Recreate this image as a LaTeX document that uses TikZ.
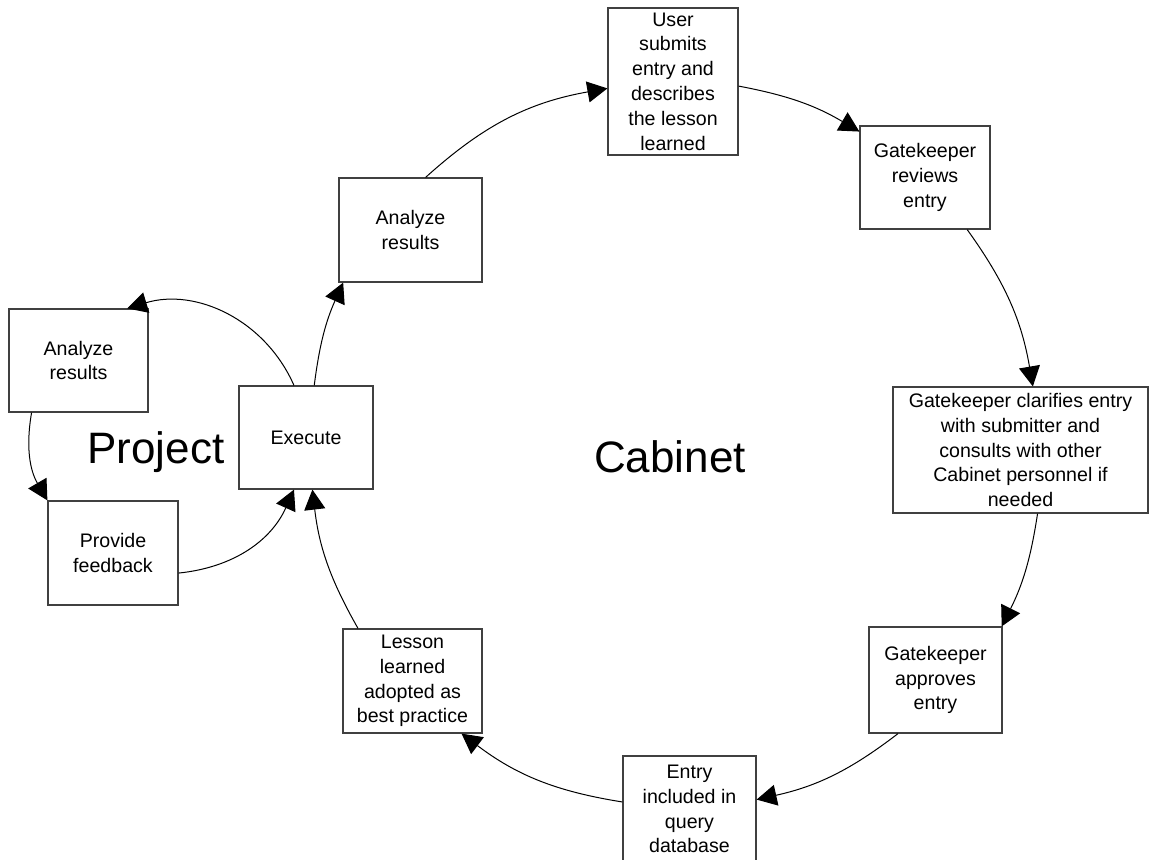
\documentclass[tikz,border=0pt]{standalone}
\usepackage{fontspec}
\setmainfont{Liberation Sans}
\usetikzlibrary{arrows.meta}

\begin{document}
\begin{tikzpicture}[x=0.5pt, y=-0.5pt,
                    box/.style={rectangle, draw=black!75, line width=0.6pt, inner sep=0pt, align=center, font=\fontsize{9.8}{12.4}\selectfont},
                    title/.style={anchor=base, font=\fontsize{22}{26}\selectfont},
                    flow/.style={-{Triangle[length=10pt, width=10.5pt]}, line width=0.5pt}]
\useasboundingbox (0,0) rectangle (1150,859);

\node[box, minimum width=71.5pt, minimum height=52pt] (analyzeT) at (410.5,230) {Analyze\\results};
\node[box, minimum width=65pt, minimum height=73.5pt] (user) at (673,81.5) {User\\submits\\entry and\\describes\\the lesson\\learned};
\node[box, minimum width=65pt, minimum height=51.5pt] (review) at (925,177.5) {Gatekeeper\\reviews\\entry};
\node[box, minimum width=127.5pt, minimum height=63pt] (clarify) at (1020.5,450) {Gatekeeper clarifies entry\\with submitter and\\consults with other\\Cabinet personnel if\\needed};
\node[box, minimum width=66.5pt, minimum height=53pt] (approve) at (935.5,680) {Gatekeeper\\approves\\entry};
\node[box, minimum width=66.5pt, minimum height=53pt] (entry) at (689.5,809) {Entry\\included in\\query\\database};
\node[box, minimum width=69.5pt, minimum height=52pt] (lesson) at (412.5,681) {Lesson\\learned\\adopted as\\best practice};
\node[box, minimum width=67pt, minimum height=51.5pt] (execute) at (306,437.5) {Execute};
\node[box, minimum width=69.5pt, minimum height=51.5pt] (analyzeL) at (78.5,360.5) {Analyze\\results};
\node[box, minimum width=65pt, minimum height=52pt] (feedback) at (113,553) {Provide\\feedback};

\node[title] (project) at (156,463) {Project};
\node[title] (cabinet) at (670,472) {Cabinet};

\draw[flow] (analyzeT.74) to[bend left=16] (user.186);
\draw[flow] (user.-4) to[bend left=10] (review.145);
\draw[flow] (review.-51) to[bend left=13] (clarify.79);
\draw[flow] (clarify.-75) to[bend left=9] (approve.39);
\draw[flow] (approve.235) to[bend left=12.5] (entry.8);
\draw[flow] (entry.174) to[bend left=14] (lesson.-47);
\draw[flow] (lesson.136) to[bend left=11.5] (execute.-83);
\draw[flow] (execute.81) to[bend left=8.5] (analyzeT.218);

\draw[flow] (execute.103) to[bend right=41.5] (analyzeL.47);
\draw[flow] (analyzeL.228) to[bend right=20] (feedback.north west);
\draw[flow] (feedback.-17) to[bend right=30] (execute.-103);
\end{tikzpicture}
\end{document}
